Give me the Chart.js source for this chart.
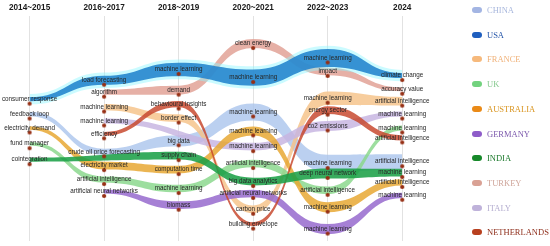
<!DOCTYPE html>
<html><head><meta charset="utf-8">
<script src="https://cdn.jsdelivr.net/npm/chart.js@4"></script>
<style>
html,body{margin:0;padding:0;background:#fff;}
#wrap{position:relative;width:550px;height:246px;overflow:hidden;}
#c{position:absolute;left:0;top:0;}
#legend{position:absolute;left:466px;top:0;width:84px;height:246px;font-family:"Liberation Serif","Times New Roman",serif;font-size:8.5px;}
.item{position:absolute;left:6px;height:10px;line-height:10px;white-space:nowrap;}
.box{display:inline-block;width:10px;height:6px;border-radius:3px;vertical-align:middle;margin-right:5px;position:relative;top:-1px;}
</style></head>
<body>
<div id="wrap">
<canvas id="c" width="550" height="246"></canvas>
<div id="legend"></div>
</div>
<script>
// ---- periods (columns) ----
const periods = ['2014~2015','2016~2017','2018~2019','2020~2021','2022~2023','2024'];
const countries = ['CHINA','USA','FRANCE','UK','AUSTRALIA','GERMANY','INDIA','TURKEY','ITALY','NETHERLANDS'];

// ---- per-country topics, rank position (0 = top, 100 = bottom) and stream weight ----
const chinaTopics = ['feedback loop', 'crude oil price forecasting', 'big data', 'machine learning', 'machine learning', 'artificial intelligence'];
const chinaPos    = [43.6, 60.4, 55.5, 42.7, 65.6, 64.8];
const chinaWeight = [2, 2.8, 5, 7.5, 7.8, 6.6];

const usaTopics = ['consumer response', 'load forecasting', 'machine learning', 'machine learning', 'machine learning', 'climate change'];
const usaPos    = [37.0, 28.6, 23.8, 27.4, 18.7, 26.5];
const usaWeight = [1.8, 4, 6, 7.2, 8, 2.2];

const franceTopics = [null, 'machine learning', 'border effect', 'carbon price', 'machine learning', 'artificial intelligence'];
const francePos    = [null, 40.5, 45.4, 85.9, 36.6, 37.9];
const franceWeight = [null, 2.8, 3.4, 3.4, 6, 3.8];

const ukTopics = ['fund manager', 'artificial intelligence', 'machine learning', 'artificial intelligence', 'artificial intelligence', 'machine learning'];
const ukPos    = [56.8, 72.7, 76.7, 65.6, 77.5, 49.8];
const ukWeight = [1.5, 2.8, 3.4, 3.4, 3.4, 2.3];

const australiaTopics = ['electricity demand', 'electricity market', 'computation time', 'machine learning', 'machine learning', 'artificial intelligence'];
const australiaPos    = [49.8, 66.5, 68.3, 51.1, 85.0, 74.0];
const australiaWeight = [1.5, 3.4, 3.4, 4, 4.5, 2.8];

const germanyTopics = [null, 'artificial neural networks', 'biomass', 'artificial neural networks', 'machine learning', 'machine learning'];
const germanyPos    = [null, 78.0, 84.1, 78.9, 94.7, 79.7];
const germanyWeight = [null, 1.7, 3.4, 3.4, 4.5, 2.3];

const indiaTopics = ['cointegration', null, 'supply chain', 'big data analytics', 'deep neural network', 'machine learning'];
const indiaPos    = [63.9, null, 62.1, 73.6, 70.0, 69.6];
const indiaWeight = [1.7, null, 3.4, 3.4, 4.5, 3.4];

const turkeyTopics = [null, 'algorithm', 'demand', 'clean energy', 'impact', 'accuracy value'];
const turkeyPos    = [null, 33.9, 33.0, 12.3, 24.7, 32.6];
const turkeyWeight = [null, 2.3, 4, 4, 3.4, 1.7];

const italyTopics = [null, 'machine learning', null, 'machine learning', 'co2 emissions', 'machine learning'];
const italyPos    = [null, 46.7, null, 58.1, 48.9, 43.6];
const italyWeight = [null, 2.3, null, 3.4, 4.5, 2.3];

const netherlandsTopics = [null, 'efficiency', 'behavioural insights', 'building envelope', 'energy sector', 'artificial intelligence'];
const netherlandsPos    = [null, 52.4, 39.2, 92.5, 41.9, 54.2];
const netherlandsWeight = [null, 1.7, 2.8, 1.7, 3.4, 2.3];

// ---- styles ----
const bandColor = {
  CHINA:'rgba(170,196,236,0.8)', USA:'rgba(38,134,206,0.9)', FRANCE:'rgba(246,196,140,0.85)',
  UK:'rgba(140,216,142,0.85)', AUSTRALIA:'rgba(232,168,52,0.85)', GERMANY:'rgba(150,106,206,0.85)',
  INDIA:'rgba(28,160,72,0.88)', TURKEY:'rgba(226,162,150,0.85)', ITALY:'rgba(200,182,226,0.85)',
  NETHERLANDS:'rgba(200,74,48,0.85)'
};
const legendBox = {CHINA:'#a3b5e3',USA:'#1f5fbf',FRANCE:'#f6b97c',UK:'#72d27e',AUSTRALIA:'#ea8a17',
  GERMANY:'#8e5cc9',INDIA:'#17892a',TURKEY:'#d9a194',ITALY:'#bfb2da',NETHERLANDS:'#b8401f'};
const legendText = {CHINA:'#a9b8dd',USA:'#2455a8',FRANCE:'#f0b27a',UK:'#86c98e',AUSTRALIA:'#d99520',
  GERMANY:'#7d5aad',INDIA:'#1d7a2d',TURKEY:'#cfa59a',ITALY:'#b5aed0',NETHERLANDS:'#8f2f1c'};

const series = {
  CHINA:[chinaTopics,chinaPos,chinaWeight], USA:[usaTopics,usaPos,usaWeight],
  FRANCE:[franceTopics,francePos,franceWeight], UK:[ukTopics,ukPos,ukWeight],
  AUSTRALIA:[australiaTopics,australiaPos,australiaWeight], GERMANY:[germanyTopics,germanyPos,germanyWeight],
  INDIA:[indiaTopics,indiaPos,indiaWeight], TURKEY:[turkeyTopics,turkeyPos,turkeyWeight],
  ITALY:[italyTopics,italyPos,italyWeight], NETHERLANDS:[netherlandsTopics,netherlandsPos,netherlandsWeight]
};

// draw order: first = on top
const drawOrder = ['USA','INDIA','NETHERLANDS','AUSTRALIA','GERMANY','UK','ITALY','FRANCE','TURKEY','CHINA'];

function edge(pos, w, sign, extra) {
  return periods.map((_, i) => ({x: i, y: pos[i] == null ? null : pos[i] + sign * (w[i] / 2 + extra)}));
}
function bandPair(name, color, extra) {
  const [, pos, w] = series[name];
  const common = {type:'line', band:true, borderWidth:0, pointRadius:0, tension:0.4, spanGaps:true};
  return [
    Object.assign({}, common, {label:name, data: edge(pos, w, -1, extra), fill:'+1', backgroundColor: color}),
    Object.assign({}, common, {label:name + '_b', data: edge(pos, w, 1, extra), fill:false, backgroundColor: color})
  ];
}

// node markers
const dotCanvas = document.createElement('canvas');
dotCanvas.width = 6; dotCanvas.height = 15;
(function(){ const g = dotCanvas.getContext('2d'); g.fillStyle = '#962f14';
  g.beginPath(); g.arc(3, 12, 2.1, 0, Math.PI*2); g.fill(); })();

const nodeData = [];
countries.forEach(c => { const [t, p] = series[c];
  t.forEach((topic, i) => { if (topic != null) nodeData.push({x: i, y: p[i]}); }); });

const datasets = [{type:'scatter', label:'nodes', data: nodeData, pointStyle: dotCanvas, pointRadius: 3}];
drawOrder.forEach(name => {
  datasets.push(...bandPair(name, bandColor[name], 0));
  if (name === 'USA') datasets.push(...bandPair(name, 'rgba(140,246,255,0.45)', 1.4));
});

// horizontal-tangent (sigmoid) curves between columns
const sigmoid = {
  id:'sigmoid',
  afterDatasetsUpdate(chart) {
    chart.data.datasets.forEach((ds, di) => {
      if (!ds.band) return;
      const meta = chart.getDatasetMeta(di);
      const pts = meta.data.filter(p => !p.skip);
      pts.forEach((p, k) => {
        const prev = pts[k-1], next = pts[k+1];
        const dl = prev ? (p.x - prev.x) / 2 : 0;
        const dr = next ? (next.x - p.x) / 2 : 0;
        p.cp1x = p.x - dl; p.cp1y = p.y;
        p.cp2x = p.x + dr; p.cp2y = p.y;
      });
      meta.dataset._pointsUpdated = true;
    });
  }
};

const topicLabels = {
  id:'topicLabels',
  afterDatasetsDraw(chart) {
    const ctx = chart.ctx, xs = chart.scales.x, ys = chart.scales.y;
    ctx.save();
    ctx.font = '6.3px "Liberation Sans", Arial, sans-serif';
    ctx.textAlign = 'center'; ctx.textBaseline = 'middle';
    ctx.fillStyle = '#262626';
    countries.forEach(c => { const [t, p] = series[c];
      t.forEach((topic, i) => { if (topic == null) return;
        ctx.fillText(topic, xs.getPixelForValue(i), ys.getPixelForValue(p[i]));
      });
    });
    ctx.restore();
  }
};

new Chart(document.getElementById('c'), {
  data: {datasets},
  options: {
    responsive:false, animation:false, events:[], devicePixelRatio:1,
    layout:{padding:{left:0, right:118, top:0, bottom:5}},
    plugins:{legend:{display:false}, tooltip:{enabled:false}},
    scales:{
      x:{type:'linear', position:'top', min:-0.33, max:5.4,
        afterBuildTicks: s => { s.ticks = periods.map((_, i) => ({value:i})); },
        ticks:{callback: v => periods[v], color:'#1a1a1a', padding:3, maxRotation:0, autoSkip:false,
          font:{family:'"Liberation Sans", Arial, sans-serif', size:8.2, weight:'bold'}},
        grid:{color:'#e2e2e2', lineWidth:1, drawTicks:false}, border:{display:false}},
      y:{type:'linear', reverse:true, min:0, max:100, display:false}
    }
  },
  plugins:[sigmoid, topicLabels]
});

// legend
const lg = document.getElementById('legend');
countries.forEach((c, i) => {
  const d = document.createElement('div');
  d.className = 'item';
  d.style.top = (5 + i * 24.7) + 'px';
  d.innerHTML = '<span class="box" style="background:' + legendBox[c] + '"></span><span style="color:' + legendText[c] + '">' + c + '</span>';
  lg.appendChild(d);
});
</script>
</body></html>
